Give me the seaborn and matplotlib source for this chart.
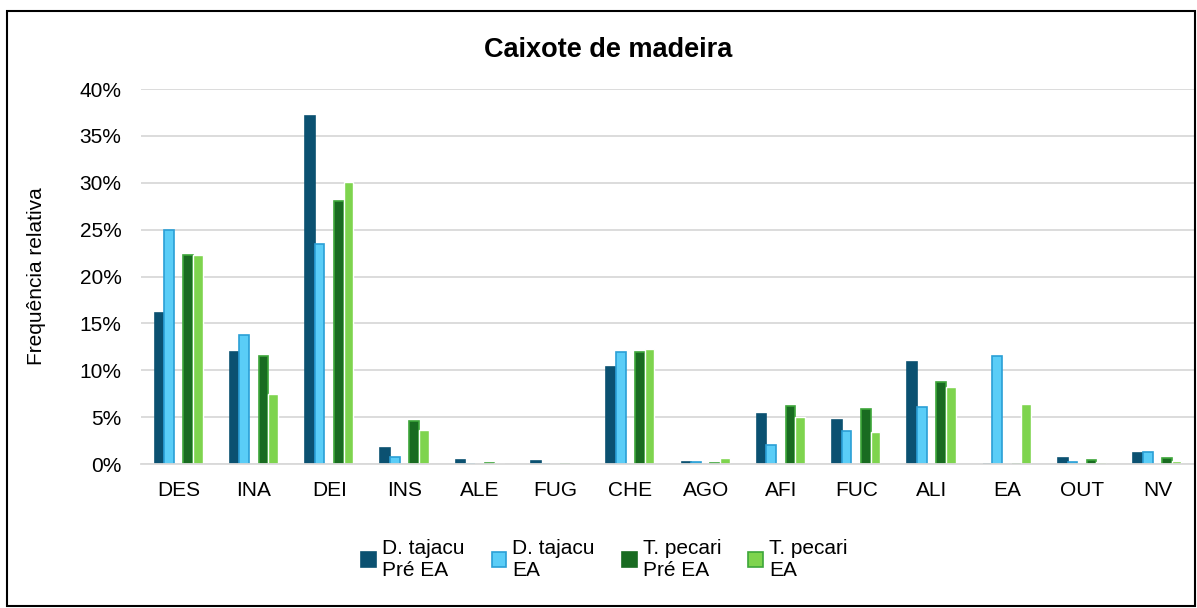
import pandas as pd
import matplotlib.pyplot as plt
import seaborn as sns
from matplotlib.patches import Rectangle

categories = ['DES', 'INA', 'DEI', 'INS', 'ALE', 'FUG', 'CHE', 'AGO', 'AFI', 'FUC', 'ALI', 'EA', 'OUT', 'NV']
dt_pre = [16.1, 11.9, 37.1, 1.7, 0.4, 0.3, 10.3, 0.2, 5.3, 4.7, 10.9, 0.0, 0.6, 1.2]
dt_ea = [25.0, 13.8, 23.5, 0.8, 0.0, 0.0, 12.0, 0.2, 2.0, 3.5, 6.1, 11.5, 0.2, 1.3]
tp_pre = [22.3, 11.5, 28.1, 4.6, 0.1, 0.0, 11.9, 0.1, 6.2, 5.9, 8.7, 0.0, 0.4, 0.6]
tp_ea = [22.3, 7.5, 30.1, 3.6, 0.1, 0.0, 12.3, 0.6, 5.0, 3.4, 8.2, 6.4, 0.2, 0.3]
series = ['D. tajacu\nPré EA', 'D. tajacu\nEA', 'T. pecari\nPré EA', 'T. pecari\nEA']

rows = []
for name, vals in zip(series, [dt_pre, dt_ea, tp_pre, tp_ea]):
    for c, v in zip(categories, vals):
        rows.append({'cat': c, 'serie': name, 'valor': v})
df = pd.DataFrame(rows)

fills = {series[0]: '#0B5171', series[1]: '#5ACDF7', ' ': 'white',
         series[2]: '#196B21', series[3]: '#7ED44E'}
edges = {series[0]: '#0B5171', series[1]: '#2A9FD6', ' ': 'white',
         series[2]: '#196B21', series[3]: '#3DA63A'}
# empty middle slot leaves the gap between the two species, as in the original
hue_order = [series[0], series[1], ' ', series[2], series[3]]

sns.set_style('white')
plt.rcParams['font.family'] = ['Liberation Sans', 'DejaVu Sans']
plt.rcParams['text.color'] = 'black'
plt.rcParams['axes.labelcolor'] = 'black'

fig = plt.figure(figsize=(11.97, 6.08), dpi=100)
ax = fig.add_axes([0.1178, 0.2368, 0.8805, 0.6168])

sns.barplot(data=df, x='cat', y='valor', hue='serie', hue_order=hue_order,
            order=categories, palette=fills, width=0.64, saturation=1,
            ax=ax, legend=False)

for cont, name in zip(ax.containers, [s for s in hue_order if s != ' ']):
    for bar in cont:
        bar.set_edgecolor(edges[name])
        bar.set_linewidth(1.2)

ax.set_ylim(0, 40)
ax.set_xlim(-0.5, len(categories) - 0.5)
ax.set_yticks(range(0, 41, 5))
ax.set_yticklabels([f'{t}%' for t in range(0, 41, 5)])
ax.yaxis.grid(True, color='#D9D9D9', linewidth=1.3)
ax.set_axisbelow(True)
for s in ['top', 'right', 'left']:
    ax.spines[s].set_visible(False)
ax.spines['bottom'].set_color('#D9D9D9')
ax.spines['bottom'].set_linewidth(1.3)
ax.tick_params(axis='both', length=0, labelsize=15, colors='black')
ax.tick_params(axis='x', pad=12)
ax.tick_params(axis='y', pad=14)
ax.set_xlabel('')
ax.set_ylabel('Frequência relativa', fontsize=15)
ax.yaxis.set_label_coords(-0.09, 0.5)

fig.text(0.508, 0.918, 'Caixote de madeira', ha='center', va='center',
         fontsize=19.5, fontweight='bold')

handles = [Rectangle((0, 0), 1, 1, facecolor=fills[s], edgecolor=edges[s], linewidth=1.2)
           for s in series]
fig.legend(handles, series, loc='center', bbox_to_anchor=(0.505, 0.08), ncol=4,
           frameon=False, fontsize=15, handlelength=0.7, handleheight=0.7,
           handletextpad=0.3, columnspacing=1.3, labelspacing=0.2)

fig.patches.append(Rectangle((7 / 1197, 2 / 608), 1188 / 1197, 595 / 608,
                             transform=fig.transFigure, fill=False,
                             edgecolor='black', linewidth=1.5))

fig.savefig('out.png', dpi=100)
